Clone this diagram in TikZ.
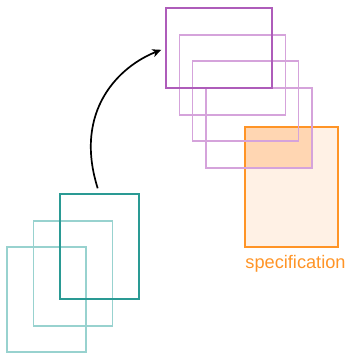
\documentclass[tikz,border=0pt]{standalone}
\usepackage{fontspec}
\setmainfont{Liberation Sans}
\usetikzlibrary{arrows.meta}

\definecolor{tealdark}{HTML}{2A9A94}
\definecolor{teallight}{HTML}{98D2CF}
\definecolor{purpdark}{HTML}{AE5CBA}
\definecolor{purplight}{HTML}{D5A3DB}
\definecolor{specline}{HTML}{FF9426}
\definecolor{specfill}{HTML}{FFF1E5}
\definecolor{specdeep}{HTML}{FFD6B2}

\begin{document}
\begin{tikzpicture}[x=1pt,y=-1pt,
  sheet/.style={draw, rectangle, inner sep=0pt, outer sep=0pt, anchor=north west,
                line width=1.1pt, minimum width=#1},
  tallsheet/.style={sheet=79pt, minimum height=105pt},
  widesheet/.style={sheet=106pt, minimum height=80pt},
]
\useasboundingbox (0,0) rectangle (348,353);

% specification sheet, with the part covered by the last wide sheet shaded deeper
\node[sheet=93pt, minimum height=120pt, draw=specline, fill=specfill] (spec) at (245,127) {};
\fill[specdeep] (245.5,127.5) rectangle (312,167);
\draw[specline, line width=1.1pt] (245,127) rectangle (338,247);
\node[text=specline, font=\fontsize{18.2}{20}\selectfont, anchor=base] (speclabel)
  at (295.5,268.5) {specification};

% stack of tall sheets (bottom left)
\node[tallsheet, draw=teallight] (t3) at (7,247) {};
\node[tallsheet, draw=teallight] (t2) at (33.5,221) {};
\node[tallsheet, draw=tealdark] (t1) at (60,194) {};

% stack of wide sheets (top right)
\node[widesheet, draw=purplight] (w4) at (206,88) {};
\node[widesheet, draw=purplight] (w3) at (192.5,61) {};
\node[widesheet, draw=purplight] (w2) at (179.5,35) {};
\node[widesheet, draw=purpdark] (w1) at (166,8) {};

% transformation arrow
\draw[line width=1.7pt, -{Stealth[length=9pt,width=8pt,inset=2.5pt]}, shorten <=6pt, shorten >=5pt]
  (t1.north) .. controls (73,110) and (120,66) .. (w1.west);
\end{tikzpicture}
\end{document}
